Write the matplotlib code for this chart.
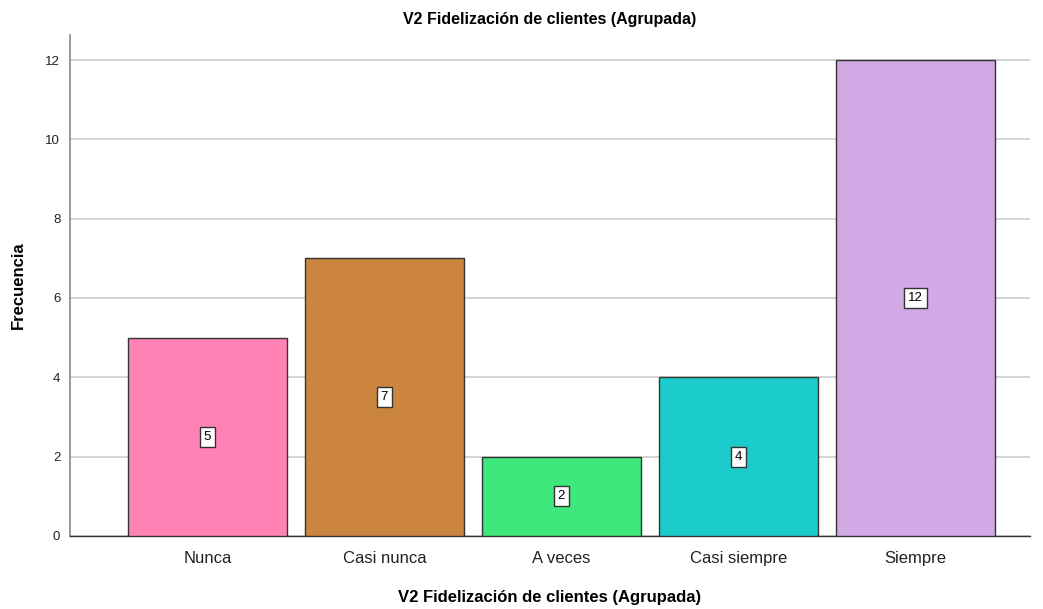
import matplotlib

matplotlib.use("Agg")
import matplotlib.pyplot as plt

categories = ["Nunca", "Casi nunca", "A veces", "Casi siempre", "Siempre"]
counts = [5, 7, 2, 4, 12]
colors = ["#FF82B4", "#CC853F", "#3FE87A", "#1CCCCC", "#D0A9E5"]
yticks = [0, 2, 4, 6, 8, 10, 12]

plt.rcParams["font.family"] = ["Arial", "Liberation Sans", "DejaVu Sans"]

fig = plt.figure(figsize=(10.43, 6.09), dpi=100)
ax = fig.add_axes([0.0671, 0.1199, 0.9204, 0.8226])

x = list(range(len(categories)))
ax.bar(x, counts, width=0.898, color=colors, edgecolor="#333333", linewidth=1.0, zorder=3)

for xi, c in zip(x, counts):
    ax.text(xi, c / 2, str(c), ha="center", va="center", fontsize=9.5, zorder=4,
            bbox=dict(boxstyle="square,pad=0.3", facecolor="white", edgecolor="#333333", linewidth=1.0))

ax.set_xlim(-0.777, 4.647)
ax.set_ylim(0, 12.63)
ax.set_yticks(yticks)
ax.set_xticks(x)
ax.set_xticklabels(categories, fontsize=12, color="#222222")
ax.tick_params(axis="y", length=0, labelsize=9.5, colors="#222222", pad=7)
ax.tick_params(axis="x", length=0, pad=11)
ax.grid(axis="y", color="#CCCCCC", linewidth=1.2, zorder=0)

for side in ["top", "right"]:
    ax.spines[side].set_visible(False)
ax.spines["left"].set_color("#888888")
ax.spines["left"].set_linewidth(1.2)
ax.spines["bottom"].set_color("#333333")
ax.spines["bottom"].set_linewidth(1.0)

ax.set_title("V2 Fidelización de clientes (Agrupada)", fontsize=11.5, fontweight="bold", pad=8)
ax.set_xlabel("V2 Fidelización de clientes (Agrupada)", fontsize=12, fontweight="bold", labelpad=17)
ax.set_ylabel("Frecuencia", fontsize=12, fontweight="bold", labelpad=14)

fig.savefig("out.png", dpi=100)
